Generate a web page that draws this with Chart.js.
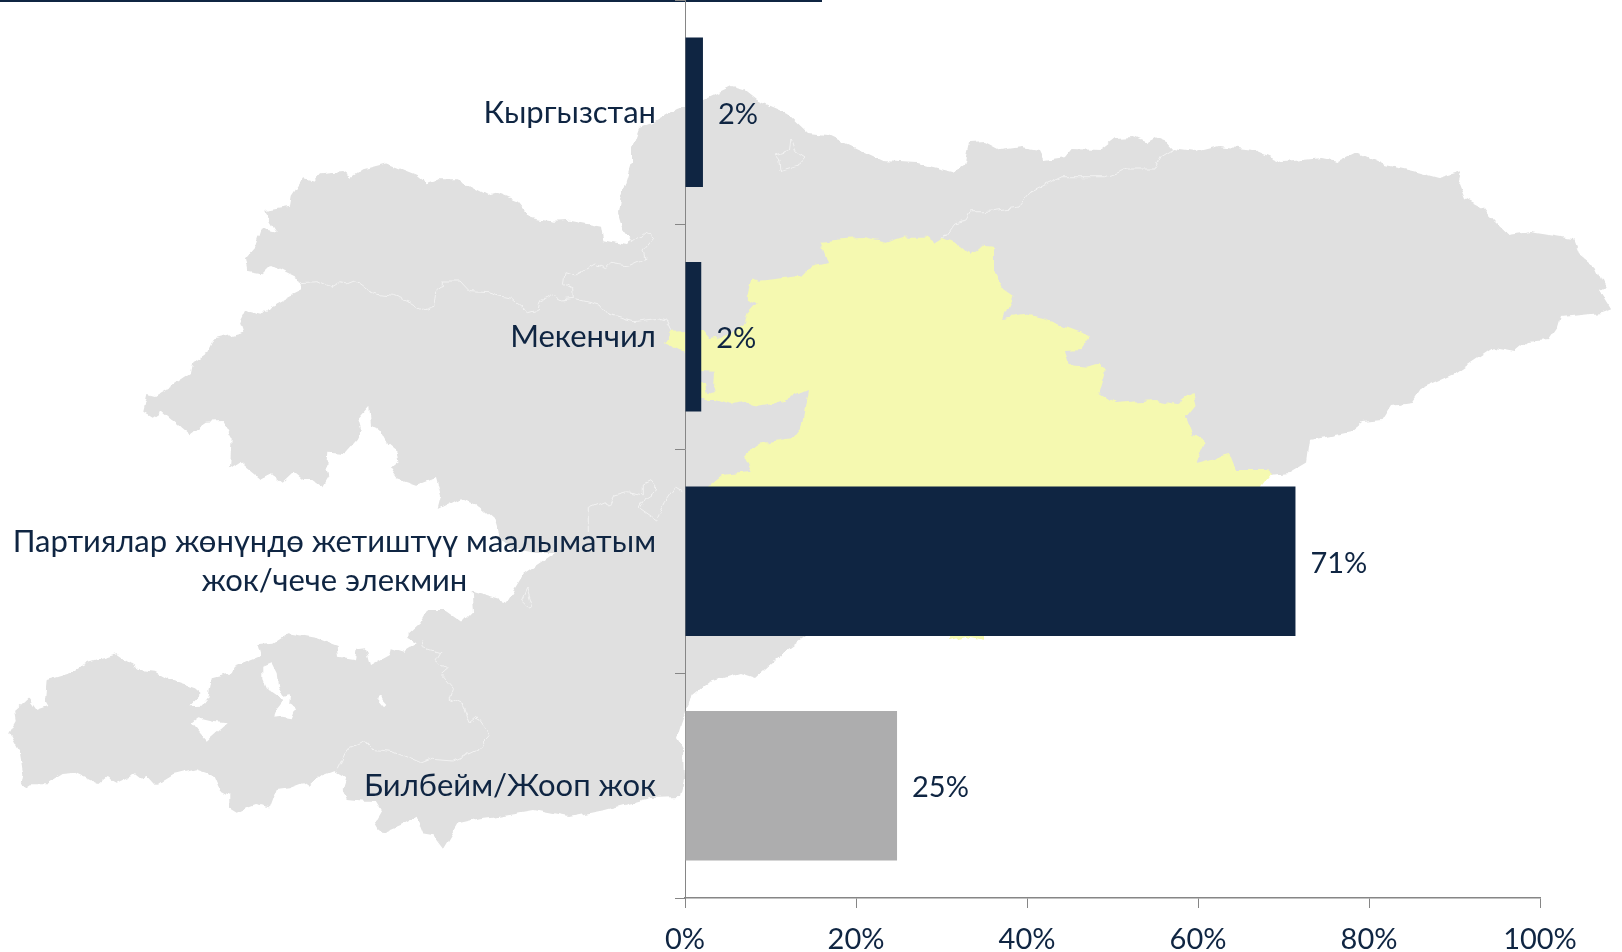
<!DOCTYPE html>
<html><head><meta charset="utf-8">
<style>
html,body{margin:0;padding:0;background:#fff;width:1622px;height:952px;overflow:hidden}
#map{position:absolute;left:0;top:0;width:1622px;height:952px}
#wrap{position:absolute;left:0;top:0;width:1622px;height:952px}
</style>
<script src="https://cdn.jsdelivr.net/npm/chart.js@4/dist/chart.umd.min.js"></script>
</head><body>
<svg id="map" viewBox="0 0 1622 952" xmlns="http://www.w3.org/2000/svg">
<defs>
<filter id="rough" filterUnits="userSpaceOnUse" x="0" y="0" width="1622" height="952">
<feTurbulence type="fractalNoise" baseFrequency="0.09" numOctaves="2" seed="4" result="n"/>
<feDisplacementMap in="SourceGraphic" in2="n" scale="7" xChannelSelector="R" yChannelSelector="G"/>
</filter>
</defs>
<rect x="0" y="0" width="822" height="2" fill="#0f2542"/>
<g filter="url(#rough)">
<polygon fill="#e0e0e0" points="631.7,241.7 623,230 618,213 620,200 631,163 631,150 639,128 653,123 677,109 700,101 731.7,86 743,89 757,100 787,113 808,133 827,135 882.5,161 916.6,163 953.8,172 964,165 969,143 985,142 1000,150 1022,147 1039,150 1044,160 1065,157 1071.6,149 1099.5,150 1115,138 1133.6,137 1146,142 1155,137 1167.6,142 1174,149 1195.6,152 1220,146 1254.5,150 1282.4,162 1322.6,158 1338,161 1356.7,152 1384.7,165 1412.6,171 1438.6,178 1462,171 1459,183 1465,198 1484,208 1493,220 1508.6,235 1530,232 1574,239 1580,255 1595.4,267 1604.7,287 1600,290 1612,309 1601.6,313 1561,317 1558,327 1549,340 1527,342 1515,352 1493,348 1456,373 1422,388 1412.6,402 1391,405 1381.6,420 1363,422 1350.6,432 1326,437 1310,440 1307,462 1288.6,473 1270,475 1200,560 900,620 805,637 783,653 755,678 740,673 709,682 693,695 688,705 681,725 677,738 684,750 685,780 681,797 650,798 605,810 569,817 533,810 493.3,816.7 480,818.3 458.3,823.3 453.3,831.7 443.3,848.3 433.3,835 423.3,833.3 416.7,816.7 401.7,825 381.7,833.3 375,821.7 381.7,810 376.7,801.7 363.3,801.7 346.7,800 342.7,790 346.7,776.7 335,770 321.7,775 308.3,786.7 303.3,783.3 290,788.3 276.7,790 270,808.3 255,805 248.3,807.3 236.7,812.7 229.3,808.3 229.3,795 220,790 213.3,775 196.7,769.3 173.3,775 165,780 156.7,786 146.7,775 143.3,780.7 135,774.3 116.7,782.7 106.7,777.3 98.3,784 75,772.7 61.7,774 46.7,783.3 31.7,783.3 26.7,786.7 21.7,783.3 23.3,775 20,753.3 9.3,733.3 16.7,720 15,710 28.3,698.3 36.7,710 48.3,706 45,700 46.7,680 70,673.3 88.3,662.7 116.7,654.3 140,670 155,671.7 170,680 195,688.3 201.7,694 188.3,707.3 201.7,706.7 208.3,698.3 211.7,678.3 231.7,673.3 235,666.7 261.7,656 258.3,644 273.3,642.7 288.3,633.3 316.7,638.3 337.7,646 339,656.7 355,659.3 356.7,649.3 365,648.3 370,666 390,655 391.7,648.3 403.3,651.7 416.7,643.3 405,636.7 420,623.3 428,610 446.7,610 463.3,621.7 473,611.7 471.7,591.7 483.3,595 506.7,601.7 515,588 523,575 545,560 555,553 535,553 512,549 498.3,535 493.3,518.3 480,506.7 460,498.3 436.7,510 440,496.7 435,478 416.7,485 396.7,478.3 390,468.3 398.3,461.7 396.7,451.7 388.3,445 378.3,426.7 370,425 368.3,406.7 358.3,418.3 361.7,430 356.7,440 345,453.3 328.3,451.7 327.3,466.7 329.3,476.7 323.3,487.3 313.3,480 303.3,480 293.3,471.7 281.7,482.7 270,473.3 260,478.3 240,461.7 230,468.3 231.7,436.7 222.7,421 206.7,421.7 189.3,434.3 160.7,410.7 151.7,416.7 143.3,411.7 147.3,394 155,396 173.3,385 190,374 192.3,363.3 206.7,353.3 213.3,339.3 243.3,331.7 240,321.7 245,311.7 261.7,315.7 270,306.7 290,295.7 301.7,290 301.7,280.7 270,265 261.7,273.3 247.3,270.7 245,258.3 255,246.7 261,228.3 276.7,231.7 264.3,211 290,206.7 291.7,196.7 304,178.3 313.3,180.7 320,173.3 343.3,171 351.7,176.7 363.3,169.3 386.7,163.3 416.7,175 426.7,183.3 438,179.3 456.7,179.3 486.7,195 495,192.7 518,201.7 531.7,218.3 553,221.7 570,220.7 601,226.7 603.3,240 626.7,245"/>
<polygon fill="#f5f9b0" points="820.5,241.7 842,239 864,238 885.6,242.7 904,236.7 926,236.7 935,242.7 942.6,238 960,245 971,255 981.7,245.7 994,246.7 994,270 1003,290 1012.7,296.7 1003,318 1025,315 1046.8,320 1090,336 1081,349 1065,350 1068.5,365 1087,366.7 1099.5,363 1105.7,371.7 1099.5,393 1115,403 1155,400 1177,404 1192.5,393 1195.6,405 1186,416.7 1192.5,435 1206,440 1195.6,463 1229.7,454 1236,470 1267,470 1272,474 1260,490 1100,620 985,630 985,640 965,636 950,640 950,630 705,490 723,475 753,471.7 745,455 763,443 793,438 801.7,426.7 808,390 776.7,403 756.7,406.7 743,401.7 730,405 715,400 706.7,400 701.7,396.7 690,370 685,352.7 665,343.3 671.7,330.7 685,330 701.7,330 708,338 717,337 733,332 744,325 748,313 756.7,303.3 746.7,298.3 751.7,278.3 760,280.7 800,276 808,268 828,263"/>
<polygon fill="#e0e0e0" points="695,371.7 714,372.7 713,386.7 715,393 708,395 706,382.7 695,381.7"/>
<g fill="#fff">
<polygon points="263.3,666.7 271.7,663.3 276.7,673.3 278.3,686.7 283.3,695 290,693.3 289.3,705 295,710 291.7,718.3 283.3,716.7 273.3,717.7 276.7,708.3 283.3,700 276.7,695 266.7,688.3 263.3,680"/>
<polygon points="191.7,723.3 198.3,718.3 213.3,721.7 226.7,723.3 206.7,740.7"/>
<polygon points="377.3,698.3 380,696.7 387.3,705 385,707.3"/>
</g>
<g fill="none" stroke="#f2f2f2" stroke-width="1">
<polyline points="301.7,281.7 316.7,280.7 331.7,287.7 340,282.7 346.7,284 355,280.7 366.7,289.3 376.7,293.3 393.3,295.3 410,301.7 425,310.7 435,307.3 436.7,291.7 442.3,287.3 442.3,281 460,281 470,291.7 490,292.7 500,296 511.7,298.3 528.3,312.7 538.3,310 540,301.7 552.7,295 561.7,300 573.3,298.3 600,305 608,315 633,321.7 660,318 666.7,320 671.7,330.7"/>
<polyline points="573.3,298.3 572.7,288.3 563.3,283.3 565,271.7 575,275 595,264 605,268.3 610,263.3 628,266 645,258.3 643,250 652.7,238.3 645,233 631.7,243"/>
<polyline points="942.6,238 953.8,223 966,220 970.5,211.7 984.8,211.7 1019,207 1031,191.7 1062,176.7 1105.7,176.7 1127,169 1155,169 1161.5,156.7 1174,149"/>
<polygon points="791,138 795.7,151.7 805,158 798.8,165 780,170.7 779,160 775,155 789.5,150"/>
<polyline points="588.3,531.7 588.3,508.3 603.3,501.7 610,505 615,495 626.7,491.7 643.3,495 643.3,485 650,481.7 656.7,490 646.7,496.7 640,508.3 656.7,520 665,501.7 675,486.7 683.3,491.7"/>
<polygon points="526.7,588.3 532.7,606.7 530,608.3 521.7,600"/>
<polyline points="421.7,639.3 423.3,646.7 440,651.7 435,660 448.3,669.3 441.7,675 453.3,688.3 450,698.3 463.3,705 470,722.7 476.7,717.3 490,735.7 478.3,748.3 453.3,760 433.3,758.3 420,763.3 393.3,751.7 371.7,749.3 365,741.7 346.7,750 337.3,769.3"/>
</g>
</g>
</svg>
<div id="wrap"><canvas id="c" width="1622" height="952"></canvas></div>
<script>
const categories = [["Кыргызстан"], ["Мекенчил"], ["Партиялар жөнүндө жетиштүү маалыматым", "жок/чече элекмин"], ["Билбейм/Жооп жок"]];
const values = [2.1, 1.9, 71.4, 24.8];
const valueLabels = ["2%", "2%", "71%", "25%"];
const barColors = ["#0f2542", "#0f2542", "#0f2542", "#adadae"];
const axisTicks = [0, 20, 40, 60, 80, 100];

const NAVY = "#0f2542";
const AXIS = "#868686";
const FONT = '"Lato", sans-serif';
const FSIZE = 31;
const NUM_SIZE = 29;

const textPlugin = {
  id: "textPlugin",
  afterDatasetsDraw(chart) {
    const { ctx, scales } = chart;
    ctx.save();
    ctx.fillStyle = NAVY;
    ctx.textBaseline = "middle";
    // value labels
    ctx.font = NUM_SIZE + "px " + FONT;
    ctx.textAlign = "left";
    chart.getDatasetMeta(0).data.forEach((bar, i) => {
      ctx.fillText(valueLabels[i], bar.x + 15, bar.y + 2);
    });
    // category labels: block right-aligned, lines centred within the block
    ctx.font = FSIZE + "px " + FONT;
    const right = scales.x.left - 29;
    categories.forEach((lines, i) => {
      const yc = scales.y.getPixelForValue(i);
      const widest = Math.max(...lines.map(l => ctx.measureText(l).width));
      ctx.textAlign = "center";
      lines.forEach((line, j) => {
        const y = yc + (j - (lines.length - 1) / 2) * 39 + 0.5;
        ctx.fillText(line, right - widest / 2, y);
      });
    });
    ctx.restore();
  }
};

new Chart(document.getElementById("c"), {
  type: "bar",
  data: {
    labels: categories,
    datasets: [{ data: values, backgroundColor: barColors, borderWidth: 0, barPercentage: 0.666, categoryPercentage: 1 }]
  },
  plugins: [textPlugin],
  options: {
    indexAxis: "y",
    responsive: false,
    animation: false,
    layout: { padding: { left: 0, top: 0, right: 82, bottom: 0 } },
    plugins: { legend: { display: false }, tooltip: { enabled: false }, title: { display: false } },
    scales: {
      x: {
        type: "linear", min: 0, max: 100,
        afterBuildTicks(s) { s.ticks = axisTicks.map(v => ({ value: v })); },
        afterFit(s) { s.height = 54; },
        border: { color: AXIS, width: 1.5 },
        grid: { drawOnChartArea: false, drawTicks: true, tickLength: 10, color: AXIS, lineWidth: 1 },
        ticks: { color: NAVY, font: { family: FONT, size: NUM_SIZE }, padding: 14, maxRotation: 0, callback: v => v + "%" }
      },
      y: {
        type: "category",
        afterFit(s) { s.width = 685; },
        border: { color: AXIS, width: 1 },
        grid: { drawOnChartArea: false, drawTicks: true, tickLength: 10, color: AXIS, lineWidth: 1, offset: true },
        ticks: { display: false }
      }
    }
  }
});
</script>
</body></html>
